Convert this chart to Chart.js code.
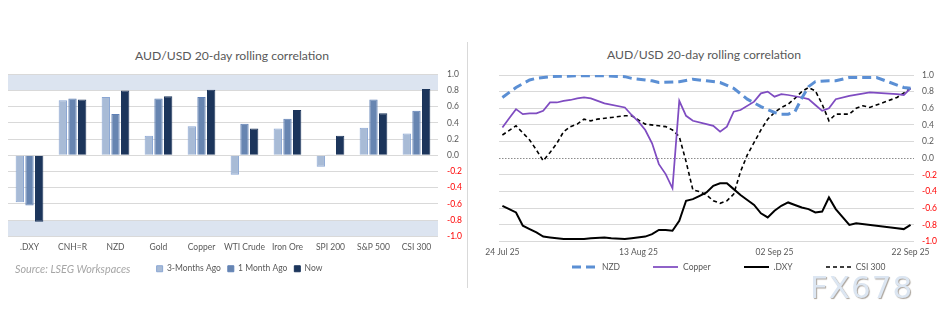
<!DOCTYPE html>
<html lang="en">
<head>
  <meta charset="UTF-8">
  <title>AUD/USD 20-day rolling correlation</title>
  <script src="https://cdn.jsdelivr.net/npm/chart.js"></script>
  <style>
    html, body {
      margin: 0;
      padding: 0;
      background: #fff;
    }

    body {
      position: relative;
      width: 940px;
      height: 323px;
      overflow: hidden;
      font-family: Lato, "Liberation Sans", sans-serif;
      color: #595959;
    }

    .box {
      position: absolute;
    }

    .title {
      position: absolute;
      font-size: 12.2px;
      line-height: 16px;
      white-space: nowrap;
      transform: translateX(-50%);
    }

    .divider {
      position: absolute;
      left: 467px;
      top: 42px;
      width: 1px;
      height: 246px;
      background: #d9d9d9;
    }

    .source {
      position: absolute;
      left: 15px;
      top: 262px;
      font-size: 10.8px;
      line-height: 14px;
      font-style: italic;
      color: #a6a6a6;
      white-space: nowrap;
    }

    .keys {
      position: absolute;
      left: 572px;
      top: 260px;
      display: flex;
      gap: 33px;
      font-size: 8.5px;
      line-height: 14px;
      white-space: nowrap;
    }

    .keys span {
      display: flex;
      align-items: center;
    }

    .keys svg {
      margin-right: 5px;
    }

    .mark {
      position: absolute;
      left: 810px;
      top: 272px;
      font-family: "DejaVu Sans", sans-serif;
      font-size: 31px;
      line-height: 31px;
      letter-spacing: 1px;
      color: #dce6f2;
      text-shadow: 1px 1px 1px #aaa39b;
    }
  </style>
</head>
<body>
  <div class="title" style="left:232px; top:48px;">AUD/USD 20-day rolling correlation</div>
  <div class="title" style="left:704px; top:47px;">AUD/USD 20-day rolling correlation</div>

  <div class="box" style="left:0; top:60px;">
    <canvas id="barChart" width="471" height="223"></canvas>
  </div>
  <div class="source">Source: LSEG Workspaces</div>

  <div class="box" style="left:470px; top:60px;">
    <canvas id="lineChart" width="475" height="205"></canvas>
  </div>
  <div class="keys" id="lineKeys"></div>

  <div class="divider"></div>

  <div class="mark">FX678</div>

  <script>
    // bar chart: correlation now vs 1 and 3 months ago
    const categories = ['.DXY', 'CNH=R', 'NZD', 'Gold', 'Copper', 'WTI Crude', 'Iron Ore', 'SPI 200', 'S&P 500', 'CSI 300'];
    const threeMonthsAgo = [-0.58, 0.68, 0.72, 0.24, 0.36, -0.24, 0.33, -0.14, 0.34, 0.27];
    const oneMonthAgo = [-0.62, 0.70, 0.51, 0.70, 0.72, 0.39, 0.45, 0.01, 0.69, 0.55];
    const nowValues = [-0.82, 0.69, 0.80, 0.73, 0.81, 0.33, 0.56, 0.24, 0.52, 0.82];
    const bandRanges = [[0.8, 1.0], [-1.0, -0.8]];

    // line chart: days counted from 24 Jul 25, [day, correlation]
    const tickDays = [0, 20, 40, 60];
    const dateTicks = ['24 Jul 25', '13 Aug 25', '02 Sep 25', '22 Sep 25'];

    const nzd = [
      [0, 0.73], [2, 0.85], [4, 0.94], [5, 0.96], [7, 0.98], [11, 0.99], [15, 0.99], [18, 0.98],
      [19, 0.96], [22, 0.93], [23, 0.91], [26, 0.92], [28, 0.95], [30, 0.93], [32, 0.91],
      [34, 0.84], [36, 0.71], [38, 0.62], [40, 0.55], [41, 0.53], [42, 0.53], [43, 0.56],
      [44, 0.72], [45, 0.86], [46, 0.92], [48, 0.93], [49, 0.93], [51, 0.97], [55, 0.97],
      [57, 0.91], [59, 0.85], [60, 0.84]
    ];
    const copper = [
      [0, 0.37], [1, 0.48], [2, 0.59], [3, 0.53], [4, 0.54], [5, 0.54], [6, 0.57], [7, 0.67],
      [8, 0.67], [9, 0.69], [10, 0.70], [11, 0.72], [12, 0.73], [13, 0.72], [14, 0.69], [15, 0.66],
      [18, 0.61], [19, 0.52], [20, 0.44], [21, 0.34], [22, 0.18], [23, -0.07], [24, -0.19],
      [25, -0.36], [26, 0.69], [27, 0.51], [28, 0.45], [30, 0.41], [31, 0.39], [32, 0.32],
      [33, 0.38], [34, 0.56], [35, 0.58], [37, 0.68], [38, 0.78], [39, 0.80], [40, 0.74],
      [41, 0.77], [42, 0.76], [44, 0.73], [45, 0.71], [46, 0.64], [47, 0.57], [48, 0.60],
      [49, 0.71], [51, 0.75], [54, 0.79], [58, 0.77], [59, 0.76], [60, 0.84]
    ];
    const dxy = [
      [0, -0.57], [1, -0.61], [2, -0.65], [3, -0.81], [4, -0.85], [5, -0.89], [6, -0.94],
      [7, -0.95], [8, -0.96], [9, -0.97], [11, -0.97], [12, -0.97], [13, -0.96], [15, -0.95],
      [16, -0.96], [18, -0.97], [19, -0.96], [21, -0.94], [22, -0.91], [23, -0.86], [24, -0.86],
      [25, -0.87], [26, -0.75], [27, -0.51], [28, -0.49], [29, -0.45], [30, -0.41], [31, -0.33],
      [32, -0.30], [33, -0.30], [34, -0.37], [35, -0.44], [36, -0.50], [37, -0.56], [38, -0.66],
      [39, -0.71], [40, -0.63], [41, -0.57], [42, -0.53], [43, -0.56], [44, -0.59], [45, -0.61],
      [46, -0.65], [47, -0.64], [48, -0.47], [49, -0.61], [51, -0.80], [52, -0.78], [58, -0.84],
      [59, -0.85], [60, -0.80]
    ];
    const csi300 = [
      [0, 0.28], [2, 0.39], [4, 0.22], [5, 0.10], [6, -0.03], [7, 0.07], [8, 0.18], [9, 0.32],
      [10, 0.38], [11, 0.41], [12, 0.47], [13, 0.45], [14, 0.47], [16, 0.49], [18, 0.51],
      [19, 0.51], [21, 0.41], [23, 0.39], [24, 0.38], [25, 0.34], [26, 0.26], [27, -0.04],
      [28, -0.38], [29, -0.40], [30, -0.44], [31, -0.51], [32, -0.54], [33, -0.51], [34, -0.43],
      [35, -0.16], [36, 0.04], [38, 0.34], [39, 0.47], [40, 0.55], [41, 0.61], [42, 0.65],
      [43, 0.72], [44, 0.80], [45, 0.85], [46, 0.81], [47, 0.65], [48, 0.45], [49, 0.53],
      [51, 0.53], [52, 0.60], [53, 0.63], [54, 0.61], [56, 0.67], [58, 0.73], [60, 0.84]
    ];

    Chart.defaults.font.family = 'Lato, "Liberation Sans", sans-serif';
    Chart.defaults.font.size = 8.5;
    Chart.defaults.color = '#595959';

    const fmt = v => (Math.abs(v) < 1e-9 ? 0 : v).toFixed(1);
    const tickColor = ctx => (ctx.tick && ctx.tick.value < -1e-9 ? '#ff0000' : '#595959');
    const toPoints = list => list.map(([x, y]) => ({ x, y }));

    // shaded strips behind the bars
    const bandPlugin = {
      id: 'bands',
      beforeDraw(chart, args, opts) {
        const { ctx, chartArea: a, scales: { y } } = chart;
        ctx.save();
        ctx.fillStyle = opts.color;
        opts.ranges.forEach(([lo, hi]) => {
          const top = y.getPixelForValue(hi);
          const bottom = y.getPixelForValue(lo);
          ctx.fillRect(a.left, top, a.right - a.left, bottom - top);
        });
        ctx.restore();
      }
    };

    new Chart(document.getElementById('barChart'), {
      type: 'bar',
      data: {
        labels: categories,
        datasets: [
          { label: '3-Months Ago', data: threeMonthsAgo, backgroundColor: '#a8bbd6', borderColor: '#8aa6d3', borderWidth: 1 },
          { label: '1 Month Ago', data: oneMonthAgo, backgroundColor: '#6785b1', borderColor: '#5f80b6', borderWidth: 1 },
          { label: 'Now', data: nowValues, backgroundColor: '#1c355b', borderColor: '#1c355b', borderWidth: 1 }
        ]
      },
      options: {
        responsive: false,
        animation: false,
        datasets: { bar: { categoryPercentage: 0.675, barPercentage: 0.86 } },
        layout: { padding: { left: 8, right: 0, top: 14.3, bottom: 0 } },
        plugins: {
          bands: { ranges: bandRanges, color: '#dce4f0' },
          tooltip: { enabled: false },
          legend: {
            position: 'bottom',
            labels: { boxWidth: 6, boxHeight: 6, padding: 7, font: { size: 8.5 }, color: '#595959' }
          }
        },
        scales: {
          x: {
            grid: { display: false, drawTicks: false },
            border: { display: false },
            ticks: { padding: 5.5, maxRotation: 0, autoSkip: false }
          },
          y: {
            position: 'right',
            min: -1,
            max: 1,
            grid: { color: '#d9d9d9', drawTicks: false },
            border: { display: false },
            ticks: { stepSize: 0.2, padding: 9, autoSkip: false, color: tickColor, callback: fmt }
          }
        }
      },
      plugins: [bandPlugin]
    });

    const lineChart = new Chart(document.getElementById('lineChart'), {
      type: 'line',
      data: {
        datasets: [
          { label: 'NZD', data: toPoints(nzd), borderColor: '#5b8fd4', borderWidth: 3, borderDash: [9, 5] },
          { label: 'Copper', data: toPoints(copper), borderColor: '#7f4cc1', borderWidth: 1.75 },
          { label: '.DXY', data: toPoints(dxy), borderColor: '#000000', borderWidth: 2 },
          { label: 'CSI 300', data: toPoints(csi300), borderColor: '#000000', borderWidth: 1.6, borderDash: [4, 3] }
        ]
      },
      options: {
        responsive: false,
        animation: false,
        elements: { point: { radius: 0 }, line: { tension: 0, fill: false } },
        layout: { padding: { left: 29, right: 0, top: 15, bottom: 2 } },
        plugins: { legend: { display: false }, tooltip: { enabled: false } },
        scales: {
          x: {
            type: 'linear',
            min: -0.5,
            max: 60.5,
            grid: { display: false, drawTicks: false },
            border: { display: false },
            afterBuildTicks: axis => { axis.ticks = tickDays.map(v => ({ value: v })); },
            ticks: { padding: 5.6, maxRotation: 0, autoSkip: false, callback: (v, i) => dateTicks[i] }
          },
          y: {
            position: 'right',
            min: -1,
            max: 1,
            grid: {
              drawTicks: false,
              color: ctx => (ctx.tick && Math.abs(ctx.tick.value) < 1e-9 ? '#8c8c8c' : '#d9d9d9')
            },
            border: {
              display: false,
              dash: ctx => (ctx.tick && Math.abs(ctx.tick.value) < 1e-9 ? [1.5, 1.5] : [])
            },
            ticks: { stepSize: 0.2, padding: 8, autoSkip: false, color: tickColor, callback: fmt }
          }
        }
      }
    });

    // legend row for the line chart, built from the dataset styles
    const keys = document.getElementById('lineKeys');
    lineChart.data.datasets.forEach(ds => {
      const item = document.createElement('span');
      const dash = (ds.borderDash || []).join(',');
      item.innerHTML =
        '<svg width="25" height="6"><line x1="0" y1="3" x2="25" y2="3" stroke="' + ds.borderColor +
        '" stroke-width="' + ds.borderWidth + '" stroke-dasharray="' + dash + '"/></svg>' + ds.label;
      keys.appendChild(item);
    });
  </script>
</body>
</html>
